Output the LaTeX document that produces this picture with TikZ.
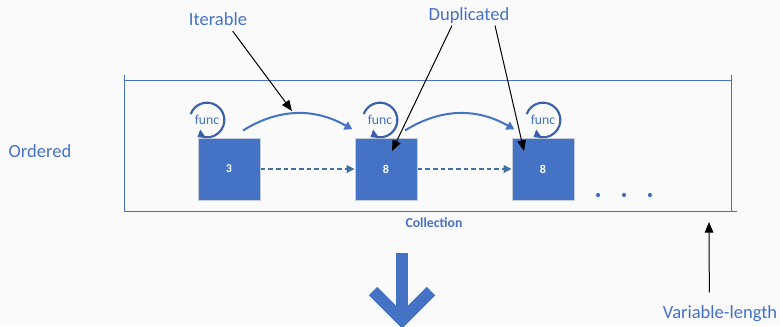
\documentclass[tikz,border=0pt]{standalone}
\usepackage{fontspec}
\setmainfont{Carlito}
\usetikzlibrary{arrows.meta}
\definecolor{accent}{RGB}{68,114,196}
\definecolor{steel}{RGB}{65,113,156}
\definecolor{rim}{RGB}{196,205,222}
\definecolor{paper}{RGB}{250,250,250}
\tikzset{
  box/.style={fill=accent,draw=rim,line width=0.75pt,minimum size=46.5pt,inner sep=0pt,text=white,font=\fontsize{9}{10}\selectfont\bfseries},
  word/.style={text=accent,inner sep=0pt,font=\fontsize{13.9}{16}\selectfont},
  fn/.style={text=accent,inner sep=0pt,font=\fontsize{10.3}{12}\selectfont},
  spin/.style={draw=accent!85!black,line width=1.6pt,-{Triangle[length=5pt,width=7pt]}},
  hop/.style={draw=accent,line width=1.5pt,-{Triangle[length=6pt,width=6.5pt]}},
  link/.style={draw=steel,line width=0.8pt,dash pattern=on 3.5pt off 2.25pt,-{Triangle[length=6pt,width=6pt]}},
  pointer/.style={draw=black,line width=0.75pt,-{Triangle[length=8pt,width=6.5pt]}},
  frame/.style={draw=accent,line width=0.75pt},
}
\begin{document}
\begin{tikzpicture}[x=0.75pt,y=-0.75pt]
  \fill[paper] (0,0) rectangle (780,326);
  \useasboundingbox (0,0) rectangle (780,326);
  \draw[frame] (124,75) -- (124,211) -- (737,211);
  \draw[frame] (124,80) -- (731,80);
  \draw[frame] (731,75) -- (731,211);
  \draw
    (229,169) node[box] (b1){3}
    (386,169) node[box] (b2){8}
    (543,169) node[box] (b3){8};
  \draw
    (207,120) node[fn] (f1){func}
    (380,120) node[fn] (f2){func}
    (543,120) node[fn] (f3){func};
  \draw
    (40,151) node[word] (ordered){Ordered}
    (218,19) node[word] (iter){Iterable}
    (469,16) node[word] (dup){Duplicated}
    (720,314) node[word] (var){Variable-length}
    (434,223) node[text=accent,font=\fontsize{10.3}{12}\selectfont\bfseries] (coll){Collection};
  \foreach \f in {f1,f2,f3}
    \draw[spin] ([shift={(160:13pt)}]\f.center) arc[start angle=160,end angle=-115,radius=13pt] -- ++(215:2pt);
  \begin{scope}
    \draw[link] (b1) -- (b2);
    \draw[link] (b2) -- (b3);
    \draw[hop] ([shift={(14,-7)}]b1.north) to[out=32,in=150] ([shift={(-2,-8)}]b2.north west);
    \draw[hop] ([shift={(19,-7)}]b2.north) to[out=32,in=150] ([shift={(3,-8)}]b3.north west);
  \end{scope}
  \foreach \x in {598,624,650}
    \fill[accent] (\x,195) circle[radius=1.6pt];
  \draw[accent,line width=9pt] (402,253) -- (402,316);
  \draw[accent,line width=9pt,line join=miter] (373,291) -- (402,320) -- (431,291);
  \coordinate (t1) at (292,111);
  \coordinate (t2) at (392,151);
  \coordinate (t3) at (524,151);
  \coordinate (t4) at (709,222);
  \begin{scope}
    \draw[pointer] ([xshift=11pt,yshift=-4pt]iter.south) -- (t1);
    \draw[pointer] ([xshift=-12.75pt,yshift=-1pt]dup.south) -- (t2);
    \draw[pointer] ([xshift=19.5pt,yshift=-1pt]dup.south) -- (t3);
    \draw[pointer] ([xshift=-8pt,yshift=10pt]var.north) -- (t4);
  \end{scope}
\end{tikzpicture}
\end{document}
